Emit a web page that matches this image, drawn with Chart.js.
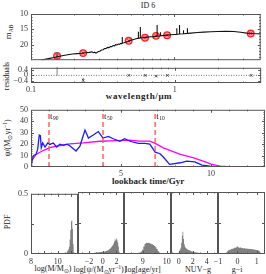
<!DOCTYPE html>
<html>
<head>
<meta charset="utf-8">
<script src="https://cdn.jsdelivr.net/npm/chart.js@4.4.0/dist/chart.umd.min.js"></script>
<style>
  body { margin: 0; background: #fff; }
  #fig { position: relative; width: 266px; height: 274px; overflow: hidden; font-family: "Liberation Serif", serif; color: #222; }
  #fig canvas { position: absolute; }
  .lbl { position: absolute; font-size: 8px; white-space: nowrap; transform: translate(-50%, -50%); }
  .rot { transform: translate(-50%, -50%) rotate(-90deg); }
  .big { font-size: 9px; font-weight: bold; }
  .lbl sub, .lbl sup { font-size: 5.5px; }
  .lbl sub { vertical-align: -2px; }
  .lbl sup { vertical-align: 3px; }
</style>
</head>
<body>
<div id="fig">
  <div class="lbl" style="left:148px;top:5px">ID 6</div>
  <div class="lbl rot" style="left:8px;top:32px;font-size:9px">m<sub>AB</sub></div>
  <div class="lbl rot" style="left:6px;top:76px">residuals</div>
  <div class="lbl big" style="left:139px;top:96px;letter-spacing:0.6px">wavelength/μm</div>
  <div class="lbl rot" style="left:7px;top:138px">ψ/(M<sub>⊙</sub>yr<sup>−1</sup>)</div>
  <div class="lbl big" style="left:148px;top:181px">lookback time/Gyr</div>
  <div class="lbl rot" style="left:7px;top:222px">PDF</div>
  <div class="lbl" style="left:53px;top:269px">log(M/M<sub>⊙</sub>)</div>
  <div class="lbl" style="left:100px;top:269px">log[ψ/(M<sub>⊙</sub>yr<sup>−1</sup>)]</div>
  <div class="lbl" style="left:143px;top:269px">log[age/yr]</div>
  <div class="lbl" style="left:198px;top:269px">NUV−g</div>
  <div class="lbl" style="left:237px;top:269px">g−i</div>
</div>
<script>
// ---- SED: model spectrum (wavelength in micron, AB mag); emission lines are repeated wavelengths
const specWave = [0.118, 0.125, 0.135, 0.145, 0.152, 0.165, 0.18, 0.195, 0.21, 0.225, 0.24, 0.255, 0.266,
  0.272, 0.278, 0.284, 0.29, 0.296, 0.302,
  0.31, 0.318, 0.326, 0.334, 0.342, 0.35, 0.358, 0.366, 0.374, 0.382, 0.39, 0.398, 0.406, 0.414, 0.422, 0.428,
  0.432, 0.432, 0.432,
  0.436, 0.445, 0.46, 0.475, 0.49, 0.505, 0.52, 0.54, 0.556,
  0.561, 0.561, 0.561, 0.57, 0.579, 0.579, 0.579,
  0.6, 0.625, 0.65, 0.68, 0.71, 0.74,
  0.758, 0.758, 0.758, 0.78, 0.8, 0.8, 0.8,
  0.85, 0.9, 0.95, 1.0,
  1.04, 1.04, 1.04, 1.086, 1.086, 1.086, 1.158, 1.158, 1.158, 1.233, 1.233, 1.233,
  1.3, 1.45, 1.6, 1.8, 2.0, 2.3, 2.6, 2.9, 3.2, 3.5, 3.8, 4.0];
const specMag = [25.0, 24.7, 24.4, 24.1, 23.9, 23.55, 23.25, 23.0, 22.85, 22.75, 22.6, 22.45, 22.3,
  22.55, 22.4, 22.7, 22.45, 22.2, 22.1,
  21.7, 21.6, 21.25, 21.2, 20.85, 20.9, 20.55, 20.6, 20.25, 20.35, 19.95, 20.05, 19.75, 19.85, 19.55, 19.6,
  19.55, 17.5, 19.55,
  19.45, 19.35, 19.1, 18.9, 18.65, 18.45, 18.25, 18.05, 17.9,
  17.88, 15.8, 17.88, 17.82, 17.78, 14.2, 17.78,
  17.7, 17.6, 17.5, 17.4, 17.35, 17.25,
  17.2, 13.6, 17.2, 17.12, 17.08, 15.9, 17.08,
  16.95, 16.85, 16.75, 16.65,
  16.6, 14.6, 16.6, 16.5, 13.6, 16.5, 16.4, 15.3, 16.4, 16.3, 14.6, 16.3,
  16.2, 16.0, 15.9, 15.75, 15.7, 15.65, 15.7, 15.9, 16.2, 16.35, 16.4, 16.45];

// ---- SED: photometry and residuals
const photWave = [0.152, 0.231, 0.48, 0.624, 0.745, 0.89, 3.41];
const photMag = [23.6, 22.7, 18.7, 17.7, 17.1, 16.9, 16.35];
const photErr = [1.2, 0.17, 0.03, 0.03, 0.03, 0.03, 0.05];
const residVal = [0.6, -0.35, 0.0, 0.0, -0.05, 0.0, 0.0];
const residErr = [0.6, 0.17, 0.03, 0.03, 0.03, 0.03, 0.05];

// ---- star formation history (lookback time in Gyr, SFR in Msun/yr)
const sfhTime = [0, 0.04, 0.13, 0.28, 0.37, 0.46, 0.52, 0.57, 0.65, 0.78, 0.93, 1.05, 1.24, 1.43, 1.6,
  1.8, 2.0, 2.17, 2.5, 2.72, 3.0, 3.19, 3.46, 3.74, 4.0, 4.3, 4.57, 4.94, 5.2, 5.5, 5.96, 6.33, 6.6,
  6.9, 7.17, 7.35, 7.7, 8.3, 8.65, 9.1, 9.5, 9.94, 10.5, 13];
const sfhBlue = [3, 4.2, 9.8, 11.2, 15.4, 28, 27.5, 16.8, 21, 17.4, 21, 19.7, 21, 17.4, 20,
  19, 20, 18.3, 14, 18.3, 32.3, 25.3, 28, 31, 25.3, 26.7, 24.7, 22.5, 24.7, 22.5, 20.6, 20.6, 20,
  13, 11.6, 8.7, 2.3, 3.7, 5.1, 4.5, 1.7, 0.8, 0, 0];
const modelTime = [0, 0.04, 0.3, 0.7, 1.05, 1.6, 2.17, 2.9, 3.83, 4.76, 5.5, 6.0, 6.6, 6.9, 7.35, 8.3,
  9.0, 9.76, 10.0, 10.5, 11.0, 12, 13];
const sfhModel = [4, 5.6, 11.2, 14.6, 16.9, 18.8, 20.2, 21, 22.5, 23, 23.5, 22.6, 22.6, 20.6, 16.7, 11,
  8.2, 4, 2.5, 0.8, 0.2, 0, 0];
const tMarks = [1.0, 4.0, 6.9];
const tNames = ['90', '50', '10'];

// ---- posterior PDFs (bin centres, probability)
const massX = [10.60, 10.65, 10.70, 10.75, 10.80, 10.85, 10.90, 10.95, 11.00, 11.05, 11.10, 11.15, 11.20, 11.25, 11.30];
const massPdf = [0, 0.01, 0.02, 0.03, 0.04, 0.06, 0.12, 0.2, 0.27, 0.28, 0.21, 0.08, 0.015, 0, 0];
const sfrX = [-1.6, -1.5, -1.4, -1.3, -1.2, -1.1, -1.0, -0.9, -0.8, -0.7, -0.6, -0.5, -0.4, -0.3, -0.2, -0.1,
  0.0, 0.1, 0.2, 0.3, 0.4, 0.5, 0.6, 0.7, 0.8, 0.9, 1.0, 1.1, 1.2, 1.3, 1.4, 1.5, 1.6, 1.7, 1.8, 1.9,
  2.0, 2.1, 2.2, 2.3, 2.4, 2.5, 2.6];
const sfrPdf = [0, 0.004, 0.006, 0.008, 0.01, 0.01, 0.012, 0.012, 0.014, 0.013, 0.015, 0.016, 0.015, 0.017, 0.018, 0.017,
  0.019, 0.02, 0.019, 0.021, 0.022, 0.024, 0.026, 0.028, 0.03, 0.034, 0.04, 0.045, 0.05, 0.058, 0.065, 0.075, 0.085, 0.1, 0.118, 0.108,
  0.125, 0.115, 0.095, 0.06, 0.02, 0.005, 0];
const ageX = [8.60, 8.65, 8.70, 8.75, 8.80, 8.85, 8.90, 8.95, 9.00, 9.05, 9.10, 9.15, 9.20, 9.25, 9.30, 9.35,
  9.40, 9.45, 9.50, 9.55, 9.60, 9.65, 9.70, 9.75, 9.80, 9.85];
const agePdf = [0, 0.003, 0.005, 0.006, 0.008, 0.01, 0.015, 0.02, 0.035, 0.06, 0.08, 0.09, 0.088, 0.09, 0.087, 0.082,
  0.078, 0.072, 0.065, 0.055, 0.04, 0.025, 0.012, 0.006, 0.003, 0];
const nuvX = [-0.2, -0.1, 0.0, 0.1, 0.2, 0.3, 0.4, 0.5, 0.6, 0.7, 0.8, 0.9, 1.0, 1.1, 1.2, 1.3, 1.4, 1.5, 1.6, 1.7,
  1.8, 1.9, 2.0, 2.1, 2.2, 2.3, 2.4, 2.5, 2.6, 2.7, 2.8, 2.9, 3.0, 3.1, 3.2, 3.3, 3.4, 3.5, 3.6, 3.7, 3.8, 3.9];
const nuvPdf = [0, 0.005, 0.01, 0.02, 0.035, 0.05, 0.09, 0.15, 0.18, 0.12, 0.08, 0.06, 0.05, 0.045, 0.04, 0.035, 0.032, 0.03, 0.028, 0.025,
  0.022, 0.02, 0.02, 0.018, 0.016, 0.015, 0.014, 0.012, 0.012, 0.01, 0.01, 0.008, 0.008, 0.007, 0.006, 0.006, 0.005, 0.005, 0.004, 0.003, 0.002, 0];
const giX = [-0.6, -0.55, -0.5, -0.45, -0.4, -0.35, -0.3, -0.25, -0.2, -0.15, -0.1, -0.05, 0.0, 0.05, 0.1, 0.15, 0.2, 0.25,
  0.3, 0.35, 0.4, 0.45, 0.5, 0.55, 0.6, 0.65, 0.7, 0.75, 0.8, 0.85, 0.9, 0.95, 1.0, 1.05, 1.1, 1.15, 1.2, 1.25];
const giPdf = [0, 0.015, 0.025, 0.03, 0.035, 0.035, 0.04, 0.042, 0.045, 0.05, 0.05, 0.055, 0.06, 0.055, 0.05, 0.052, 0.05, 0.048,
  0.045, 0.048, 0.045, 0.042, 0.045, 0.04, 0.042, 0.04, 0.038, 0.04, 0.038, 0.035, 0.036, 0.033, 0.032, 0.03, 0.028, 0.02, 0.01, 0];

// ---- axis ranges and tick labels
const sedXRange = [0.1, 4];
const sedYRange = [10, 25];
const residRange = [-0.55, 0.55];
const sfhXRange = [0, 13];
const sfhYRange = [0, 50];
const pdfRange = [0, 0.5];
const histPanels = [
  { x: massX, y: massPdf, range: [8, 11.5], labels: [8, 10], maj: [8, 9, 10, 11], min: [8.5, 9.5, 10.5, 11.5] },
  { x: sfrX, y: sfrPdf, range: [-3.6, 3.1], labels: [-2, 0, 2], maj: [-2, 0, 2], min: [-3, -1, 1, 3] },
  { x: ageX, y: agePdf, range: [8.22, 10.18], labels: [9, 10], maj: [9, 10], min: [8.5, 9.5] },
  { x: nuvX, y: nuvPdf, range: [-1.1, 5.6], labels: [0, 2, 4], maj: [0, 2, 4], min: [-1, 1, 3, 5] },
  { x: giX, y: giPdf, range: [-1, 1.42], labels: [-1, 0, 1], maj: [-1, 0, 1], min: [-0.5, 0.5] }
];
const histEdges = [31, 78, 124, 171, 218, 265];

Chart.defaults.font.family = '"Liberation Serif", serif';
Chart.defaults.font.size = 8;
Chart.defaults.color = '#333';

const fig = document.getElementById('fig');
const fmt = v => String(v).replace('-', '\u2212');

// inward PGPLOT-style ticks plus a box round the plot area
const frameTicks = {
  id: 'frameTicks',
  afterDatasetsDraw(chart, args, o) {
    const { ctx, chartArea: a } = chart;
    const xs = chart.scales.x, ys = chart.scales.y;
    ctx.save();
    ctx.strokeStyle = '#555';
    ctx.lineWidth = 1;
    ctx.beginPath();
    const mark = (vals, len, sc, horiz) => (vals || []).forEach(v => {
      const p = Math.round(sc.getPixelForValue(v)) + 0.5;
      if (horiz) {
        if (p < a.left || p > a.right) return;
        ctx.moveTo(p, a.top); ctx.lineTo(p, a.top + len);
        ctx.moveTo(p, a.bottom); ctx.lineTo(p, a.bottom - len);
      } else {
        if (p < a.top || p > a.bottom) return;
        ctx.moveTo(a.left, p); ctx.lineTo(a.left + len, p);
        ctx.moveTo(a.right, p); ctx.lineTo(a.right - len, p);
      }
    });
    mark(o.xMaj, 3, xs, true);
    mark(o.xMin, 1.5, xs, true);
    mark(o.yMaj, 3, ys, false);
    mark(o.yMin, 1.5, ys, false);
    ctx.stroke();
    ctx.strokeRect(a.left + 0.5, a.top + 0.5, a.width - 1, a.height - 1);
    ctx.restore();
  }
};

// t90 / t50 / t10 labels next to the dashed lines
const tLabels = {
  id: 'tLabels',
  afterDatasetsDraw(chart, args, o) {
    if (!o.marks) return;
    const { ctx, chartArea: a } = chart;
    ctx.save();
    ctx.fillStyle = '#222';
    ctx.textBaseline = 'top';
    o.marks.forEach((t, i) => {
      const px = chart.scales.x.getPixelForValue(t);
      ctx.font = '9px "Liberation Serif"';
      ctx.fillText('t', px + 1, a.top + 2);
      ctx.font = '5.5px "Liberation Serif"';
      ctx.fillText(o.names[i], px + 4, a.top + 6);
    });
    ctx.restore();
  }
};

function addCanvas(area, pad) {
  const c = document.createElement('canvas');
  const w = area.w + pad.l + pad.r, h = area.h + pad.t + pad.b;
  c.width = w; c.height = h;
  c.style.left = (area.x - pad.l) + 'px';
  c.style.top = (area.y - pad.t) + 'px';
  c.style.width = w + 'px';
  c.style.height = h + 'px';
  fig.appendChild(c);
  return c;
}

function axis(o) {
  return {
    type: o.type || 'linear',
    min: o.range[0], max: o.range[1],
    reverse: !!o.reverse,
    display: o.show,
    grid: { display: false, drawTicks: false },
    border: { display: false },
    ticks: { autoSkip: false, maxRotation: 0, padding: o.pad ?? 3, callback: v => fmt(v) },
    afterBuildTicks: s => { s.ticks = (o.labels || []).map(v => ({ value: v })); },
    afterFit: s => {
      if (!o.show) return;
      if (s.isHorizontal()) s.height = o.size; else s.width = o.size;
    }
  };
}

function makeChart(area, pad, x, y, datasets, frame, extra) {
  const canvas = addCanvas(area, pad);
  return new Chart(canvas, {
    type: 'line',
    data: { datasets },
    options: {
      responsive: false,
      animation: false,
      devicePixelRatio: 1,
      events: [],
      parsing: false,
      layout: { padding: { left: y.show ? 0 : pad.l, right: pad.r, top: pad.t, bottom: x.show ? 0 : pad.b } },
      scales: { x: axis({ ...x, size: pad.b }), y: axis({ ...y, size: pad.l }) },
      plugins: { legend: { display: false }, tooltip: { enabled: false }, frameTicks: frame, tLabels: extra || {} }
    },
    plugins: [frameTicks, tLabels]
  });
}

const pts = (xs, ys) => xs.map((v, i) => ({ x: v, y: ys[i] }));
const errBars = (xs, ys, es) => xs.flatMap((v, i) => [
  { x: v, y: ys[i] - es[i] }, { x: v, y: ys[i] + es[i] }, { x: v, y: NaN }]);
const line = (data, color, width, dash) => ({
  data, borderColor: color, borderWidth: width, borderDash: dash || [], pointRadius: 0, tension: 0, fill: false, spanGaps: false
});

const logMinor = [0.2, 0.3, 0.4, 0.5, 0.6, 0.7, 0.8, 0.9, 2, 3, 4];

// ---- SED panel
makeChart({ x: 31, y: 14, w: 234, h: 52 }, { l: 31, r: 1, t: 14, b: 2 },
  { type: 'logarithmic', range: sedXRange, show: false },
  { range: sedYRange, reverse: true, show: true, labels: [10, 15, 20] },
  [
    line(pts(specWave, specMag), '#111', 1.1),
    line(errBars(photWave, photMag, photErr), '#666', 0.8),
    { data: pts(photWave, photMag), showLine: false, pointStyle: 'circle', pointRadius: 3.3,
      pointBackgroundColor: 'rgba(255,80,80,0.5)', pointBorderColor: '#ff2020', pointBorderWidth: 1.3 },
    { data: pts(photWave, photMag), showLine: false, pointStyle: 'crossRot', pointRadius: 2.2,
      pointBorderColor: '#e00000', pointBorderWidth: 1 }
  ],
  { xMaj: [0.1, 1], xMin: logMinor, yMaj: [10, 15, 20, 25], yMin: [11, 12, 13, 14, 16, 17, 18, 19, 21, 22, 23, 24] });

// ---- residual panel
makeChart({ x: 31, y: 66, w: 234, h: 17 }, { l: 31, r: 1, t: 6, b: 12 },
  { type: 'logarithmic', range: sedXRange, show: true, labels: [0.1, 1], pad: 2 },
  { range: residRange, show: true, labels: [0.4, 0, -0.4] },
  [
    line(pts(sedXRange, [0, 0]), '#555', 0.8, [1, 1.5]),
    line(errBars(photWave, residVal, residErr), '#666', 0.8),
    { data: pts(photWave, residVal), showLine: false, pointStyle: 'crossRot', pointRadius: 1.8,
      pointBorderColor: '#333', pointBorderWidth: 0.9 }
  ],
  { xMaj: [0.1, 1], xMin: logMinor, yMaj: [0.4, 0, -0.4], yMin: [0.2, -0.2] });

// ---- star formation history panel
makeChart({ x: 31, y: 108, w: 234, h: 59 }, { l: 31, r: 1, t: 6, b: 12 },
  { range: sfhXRange, show: true, labels: [5, 10], pad: 2 },
  { range: sfhYRange, show: true, labels: [0, 10, 20, 30, 40, 50] },
  [
    ...tMarks.map(t => line(pts([t, t], sfhYRange), 'rgba(255,90,90,0.8)', 1.8, [5, 3])),
    line(pts(sfhTime, sfhBlue), '#1a1aff', 1.3),
    line(pts(modelTime, sfhModel), '#ff00ff', 1.3)
  ],
  { xMaj: [5, 10], xMin: [1, 2, 3, 4, 6, 7, 8, 9, 11, 12], yMaj: [10, 20, 30, 40],
    yMin: [2, 4, 6, 8, 12, 14, 16, 18, 22, 24, 26, 28, 32, 34, 36, 38, 42, 44, 46, 48] },
  { marks: tMarks, names: tNames });

// ---- PDF histograms
histPanels.forEach((p, i) => {
  const left = histEdges[i], right = histEdges[i + 1];
  makeChart({ x: left, y: 192, w: right - left, h: 62 }, { l: i === 0 ? 31 : 8, r: i === 4 ? 1 : 8, t: 6, b: 12 },
    { range: p.range, show: true, labels: p.labels, pad: 3 },
    { range: pdfRange, show: i === 0, labels: [0, 0.5] },
    [{ data: pts(p.x, p.y), stepped: 'middle', borderColor: 'rgba(0,0,0,0)', borderWidth: 0,
       backgroundColor: '#808080', fill: 'origin', pointRadius: 0 }],
    { xMaj: p.maj, xMin: p.min, yMaj: [0.25], yMin: [] });
});
</script>
</body>
</html>
